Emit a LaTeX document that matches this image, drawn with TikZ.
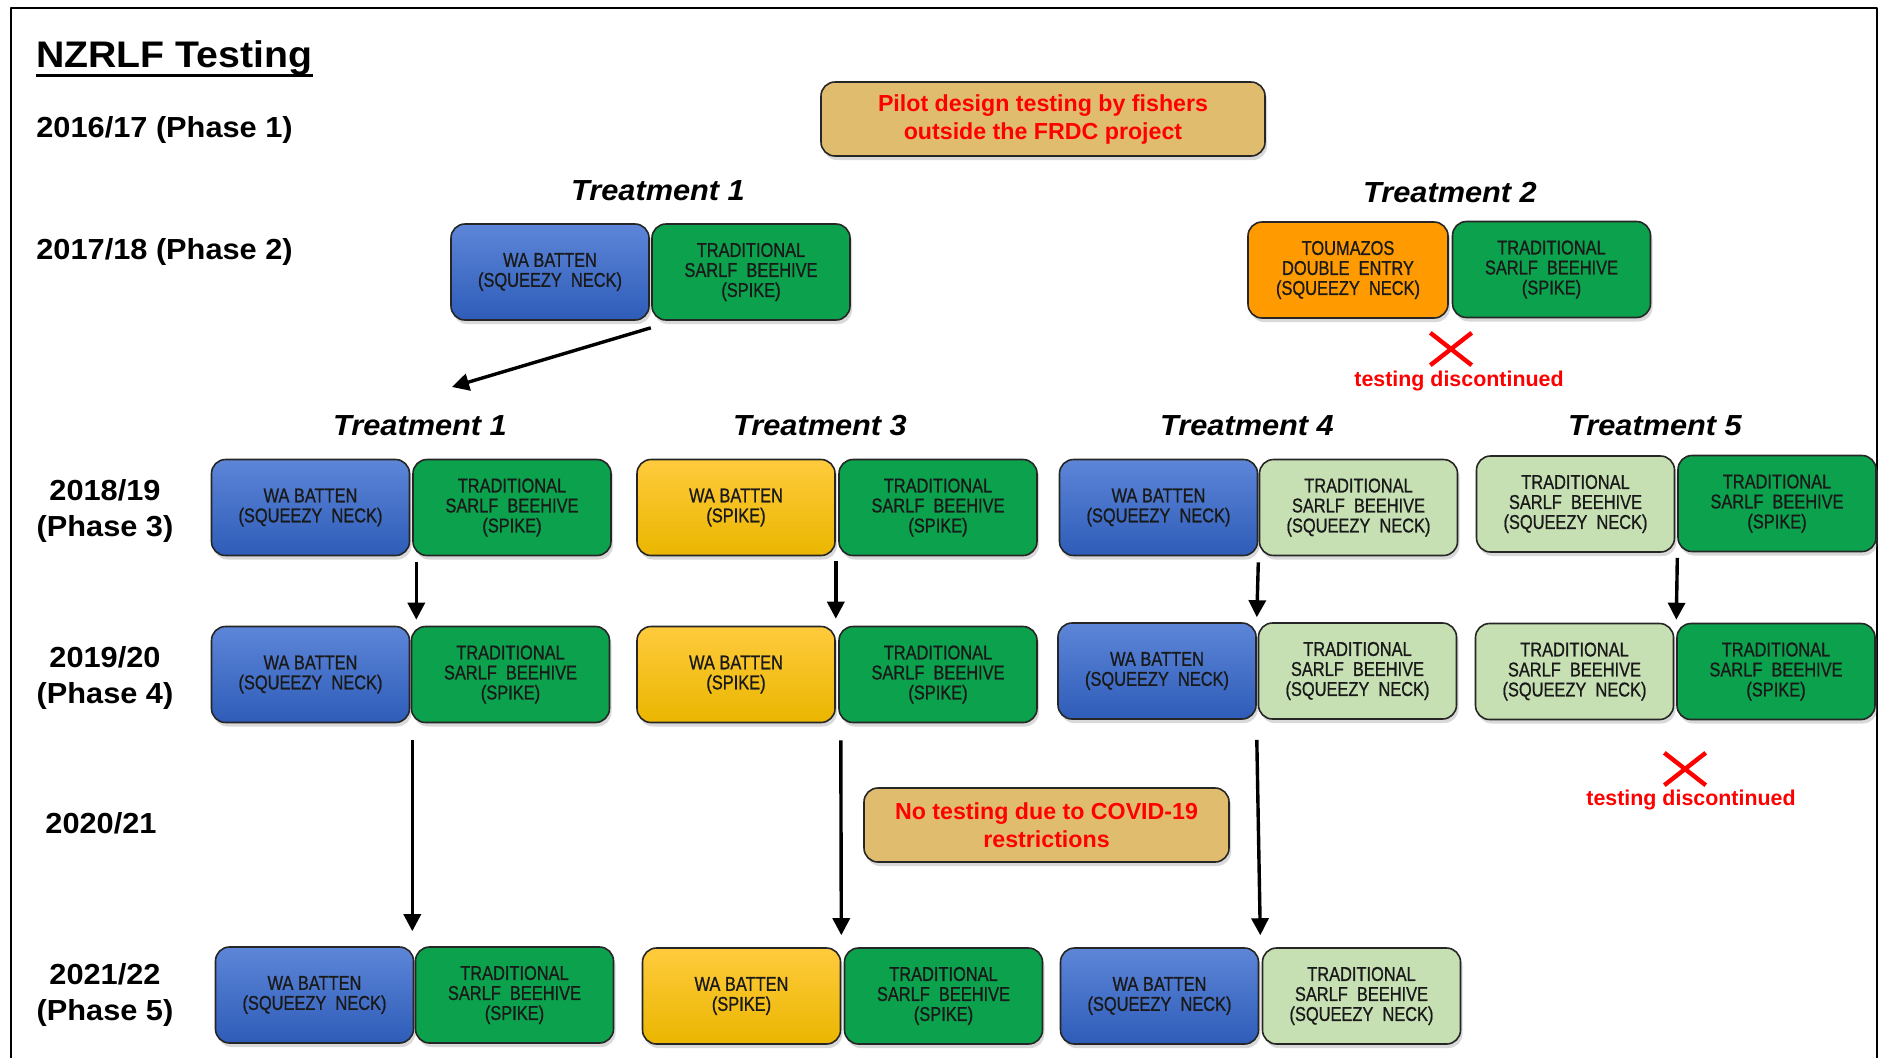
\documentclass[tikz,border=0pt]{standalone}
\usepackage{fontspec}
\setmainfont{Liberation Sans}
\newfontfamily\labelfont{Liberation Sans}[FakeStretch=1.06]
\newfontfamily\boxfont{Liberation Sans}[FakeStretch=0.82,FakeBold=0.8]
\usepackage{tikz}
\usetikzlibrary{arrows.meta,shadows,shapes.misc}

\begin{document}
\begin{tikzpicture}[x=0.5pt,y=-0.5pt,line join=round,
  box/.style={rectangle,rounded corners=7pt,draw=black!85,line width=.8pt,minimum width=99pt,minimum height=48pt,inner sep=1pt,align=center,text=black!90,font=\boxfont\fontsize{10}{10}\selectfont,drop shadow={shadow xshift=1pt,shadow yshift=-2pt,opacity=.3}},
  wabox/.style={box,top color=waTop,bottom color=waBot},
  spikebox/.style={box,top color=spkTop,bottom color=spkBot},
  beebox/.style={box,fill=beeDark},
  neckbox/.style={box,fill=beeLight},
  toubox/.style={box,fill=touOrange},
  notebox/.style={box,fill=noteTan,text=red,minimum width=222pt,minimum height=37pt,font=\fontsize{11.6}{14}\selectfont\bfseries},
  year/.style={font=\labelfont\fontsize{14.5}{18}\selectfont\bfseries,align=center,inner sep=0pt},
  treat/.style={font=\labelfont\fontsize{14.5}{17}\selectfont\bfseries\itshape,anchor=base,inner sep=0pt},
  stoptext/.style={text=red,font=\fontsize{10.7}{13}\selectfont\bfseries,anchor=base,inner sep=0pt},
  stopmark/.style={cross out,draw=red,line width=2.2pt,minimum width=18.5pt,minimum height=14pt,inner sep=0pt},
  flow/.style={line width=1.7pt,-{Triangle[width=8.5pt,length=8.5pt]}}]
\definecolor{waTop}{HTML}{5D86D8}
\definecolor{waBot}{HTML}{2E5CB8}
\definecolor{spkTop}{HTML}{FFCB3D}
\definecolor{spkBot}{HTML}{EAB600}
\definecolor{beeDark}{HTML}{0BA14D}
\definecolor{beeLight}{HTML}{C6E0B4}
\definecolor{touOrange}{HTML}{FF9A00}
\definecolor{noteTan}{HTML}{E0BD6E}
\useasboundingbox (0,0) rectangle (1883,1057);
\draw[line width=1pt] (11,1060) -- (11,8) -- (1877,8) -- (1877,1060);

\node[anchor=base west,inner sep=0pt,font=\labelfont\fontsize{18.5}{22}\selectfont\bfseries] (title) at (36,67) {NZRLF Testing};
\draw[line width=1.3pt] (title.south west) -- (title.south east);

\node[year,anchor=base west] (y1) at (36,137) {2016/17 (Phase 1)};
\node[year,anchor=base west] (y2) at (36,259) {2017/18 (Phase 2)};
\node[year] (y3) at (105,511) {2018/19\\(Phase 3)};
\node[year] (y4) at (105,678) {2019/20\\(Phase 4)};
\node[year] (y5) at (101,823) {2020/21};
\node[year] (y6) at (105,995) {2021/22\\(Phase 5)};

\node[notebox] (pilot) at (1043,119) {Pilot design testing by fishers\\outside the FRDC project};

\node[treat] (t1a) at (658,200) {Treatment 1};
\node[treat] (t2) at (1450,202) {Treatment 2};
\node[wabox] (r2a) at (550,272) {WA BATTEN\\(SQUEEZY~ NECK)};
\node[beebox] (r2b) at (751,272) {TRADITIONAL\\SARLF~ BEEHIVE\\(SPIKE)};
\node[toubox,minimum width=100pt] (r2c) at (1348,270) {TOUMAZOS\\DOUBLE~ ENTRY\\(SQUEEZY~ NECK)};
\node[beebox] (r2d) at (1551.5,269.5) {TRADITIONAL\\SARLF~ BEEHIVE\\(SPIKE)};
\node[stopmark] (x2) at (1451,349) {};
\node[stoptext] (s2) at (1459,386) {testing discontinued};

\coordinate (d1) at (452,387);
\draw[flow] ([shift={(1,7)}]r2a.south east) -- (d1);

\node[treat] (t1b) at (420,435) {Treatment 1};
\node[treat] (t3) at (820,435) {Treatment 3};
\node[treat] (t4) at (1247,435) {Treatment 4};
\node[treat] (t5) at (1655,435) {Treatment 5};

\node[wabox] (r3a) at (310.5,507.5) {WA BATTEN\\(SQUEEZY~ NECK)};
\node[beebox] (r3b) at (512,507.5) {TRADITIONAL\\SARLF~ BEEHIVE\\(SPIKE)};
\node[spikebox] (r3c) at (736,507.5) {WA BATTEN\\(SPIKE)};
\node[beebox] (r3d) at (938,507.5) {TRADITIONAL\\SARLF~ BEEHIVE\\(SPIKE)};
\node[wabox] (r3e) at (1158.5,507.5) {WA BATTEN\\(SQUEEZY~ NECK)};
\node[neckbox] (r3f) at (1358.5,507.5) {TRADITIONAL\\SARLF~ BEEHIVE\\(SQUEEZY~ NECK)};
\node[neckbox] (r3g) at (1575.5,504) {TRADITIONAL\\SARLF~ BEEHIVE\\(SQUEEZY~ NECK)};
\node[beebox] (r3h) at (1777,503.5) {TRADITIONAL\\SARLF~ BEEHIVE\\(SPIKE)};

\node[wabox] (r4a) at (310.5,674.5) {WA BATTEN\\(SQUEEZY~ NECK)};
\node[beebox] (r4b) at (510.5,674.5) {TRADITIONAL\\SARLF~ BEEHIVE\\(SPIKE)};
\node[spikebox] (r4c) at (736,674.5) {WA BATTEN\\(SPIKE)};
\node[beebox] (r4d) at (938,674.5) {TRADITIONAL\\SARLF~ BEEHIVE\\(SPIKE)};
\node[wabox] (r4e) at (1157,671) {WA BATTEN\\(SQUEEZY~ NECK)};
\node[neckbox] (r4f) at (1357.5,671) {TRADITIONAL\\SARLF~ BEEHIVE\\(SQUEEZY~ NECK)};
\node[neckbox] (r4g) at (1574.5,671.5) {TRADITIONAL\\SARLF~ BEEHIVE\\(SQUEEZY~ NECK)};
\node[beebox] (r4h) at (1776,671.5) {TRADITIONAL\\SARLF~ BEEHIVE\\(SPIKE)};

\draw[flow] ([shift={(6,6)}]r3a.south east) -- ([shift={(6,-6)}]r4a.north east);
\draw[flow] ([shift={(0,5)}]r3c.south east) -- ([shift={(0,-7)}]r4c.north east);
\draw[flow] ([shift={(0,6)}]r3e.south east) -- ([shift={(0,-5)}]r4e.north east);
\draw[flow] ([shift={(2,5)}]r3g.south east) -- ([shift={(2,-3)}]r4g.north east);

\node[stopmark] (x5) at (1685,769) {};
\node[stoptext] (s5) at (1691,805) {testing discontinued};

\node[notebox,minimum width=182.5pt] (covid) at (1046.5,825) {No testing due to COVID-19\\restrictions};

\node[wabox] (r5a) at (314.5,995) {WA BATTEN\\(SQUEEZY~ NECK)};
\node[beebox] (r5b) at (514.5,995) {TRADITIONAL\\SARLF~ BEEHIVE\\(SPIKE)};
\node[spikebox] (r5c) at (741.5,996) {WA BATTEN\\(SPIKE)};
\node[beebox] (r5d) at (943.5,996) {TRADITIONAL\\SARLF~ BEEHIVE\\(SPIKE)};
\node[wabox] (r5e) at (1159.5,996) {WA BATTEN\\(SQUEEZY~ NECK)};
\node[neckbox] (r5f) at (1361.5,996) {TRADITIONAL\\SARLF~ BEEHIVE\\(SQUEEZY~ NECK)};

\draw[flow] ([shift={(2,17)}]r4a.south east) -- ([shift={(-2,-15)}]r5a.north east);
\draw[flow] ([shift={(5,17)}]r4c.south east) -- ([shift={(0,-12)}]r5c.north east);
\draw[flow] ([shift={(0,20)}]r4e.south east) -- ([shift={(1,-12)}]r5e.north east);
\end{tikzpicture}
\end{document}
